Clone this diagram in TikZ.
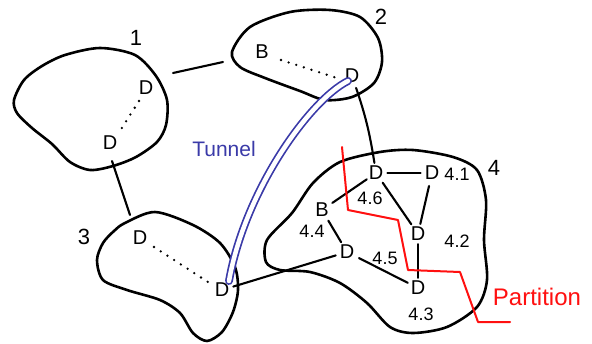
\documentclass[tikz,border=0pt]{standalone}
\usepackage{fontspec}
\setmainfont{Liberation Sans}
\definecolor{tunblue}{HTML}{3A3AA8}
\definecolor{partred}{HTML}{FF1010}
\begin{document}
\begin{tikzpicture}[x=1pt,y=-1pt,line cap=round,line join=round,
  blob/.style={line width=2.6pt},
  link/.style={line width=2.1pt},
  dots/.style={line width=2.6pt,dash pattern=on 0pt off 8pt},
  letter/.style={inner sep=1pt,font=\fontsize{20}{20}\selectfont},
  num/.style={inner sep=0pt,font=\fontsize{18}{18}\selectfont},
  region/.style={inner sep=0pt,font=\fontsize{22}{22}\selectfont},
  tunnel/.style={draw=tunblue,line width=1.7pt,double=white,double distance=4.5pt},
  partition/.style={draw=partred,line width=2pt}]
\fill[white] (0,0) rectangle (592,343);
\useasboundingbox (0,0) rectangle (592,343);

% network 1
\draw[blob] plot[smooth cycle] coordinates {(65,55) (100,48) (135,55) (156,76) (167,100)
  (166,125) (157,142) (136,157) (113,166) (90,170) (70,162) (52,144) (32,128) (17,113)
  (14,100) (24,80) (42,66)};
\node[region] (n1) at (136,38) {1};
\node[letter] (d1a) at (146,88) {D};
\node[letter] (d1b) at (110,143) {D};
\draw[dots] (139,101) -- (118,134);

% network 2
\draw[blob] plot[smooth cycle] coordinates {(232,52) (250,27) (290,12) (330,10) (360,17)
  (378,38) (382,62) (374,83) (352,97) (325,100) (300,91) (265,78) (240,67)};
\node[region] (n2) at (381,17) {2};
\node[letter] (b2) at (262,52) {B};
\node[letter] (d2) at (352,76) {D};
\draw[dots] (281,60) -- (337,78);

% network 3
\draw[blob] plot[smooth cycle] coordinates {(125,223) (155,212) (193,225) (220,243)
  (235,267) (238,290) (233,312) (222,332) (207,341) (193,333) (180,313) (160,300)
  (127,290) (103,280) (97,260) (103,243) (114,231)};
\node[region] (n3) at (84,237) {3};
\node[letter] (d3a) at (140,238) {D};
\node[letter] (d3b) at (222,290) {D};
\draw[dots] (154,247) -- (208,282);

% network 4
\draw[blob] plot[smooth cycle] coordinates {(267,240) (292,213) (313,183) (340,162)
  (380,152) (413,150) (453,157) (477,170) (486,200) (484,240) (487,280) (477,307)
  (447,327) (413,333) (390,327) (367,303) (340,283) (310,272) (280,270) (266,262)};
\node[region] (n4) at (494,168) {4};
\node[letter] (d46) at (376,173) {D};
\node[letter] (d41) at (432,173) {D};
\node[letter] (d42) at (418,234) {D};
\node[letter] (d44) at (322,210) {B};
\node[letter] (d45) at (347,252) {D};
\node[letter] (d43) at (418,288) {D};
\node[num] at (457,174) {4.1};
\node[num] at (370,198) {4.6};
\node[num] at (457,241) {4.2};
\node[num] at (312,231) {4.4};
\node[num] at (385,258) {4.5};
\node[num] at (421,314) {4.3};

% links between networks
\coordinate (e12a) at (173,73);
\coordinate (e12b) at (223,62);
\coordinate (e13a) at (112,161);
\coordinate (e13b) at (130,215);
\draw[link] (e12a) -- (e12b);
\draw[link] (e13a) -- (e13b);
\draw[link,shorten <=4pt,shorten >=2pt] (d2) to[bend left=5] (d46);
\draw[link,shorten <=3pt,shorten >=3pt] (d3b) -- (d45);

% links inside network 4
\draw[link,shorten <=3pt,shorten >=3pt] (d46) -- (d41);
\draw[link,shorten <=2pt,shorten >=2pt] (d46) -- (d42);
\draw[link,shorten <=5pt,shorten >=2pt] (d41) -- (d42);
\draw[link,shorten <=3pt,shorten >=1pt] (d44) -- (d46);
\draw[link,shorten <=3pt,shorten >=2pt] (d44) -- (d45);
\draw[link,shorten <=2pt,shorten >=2pt] (d42) -- (d43);
\draw[link,shorten <=4pt,shorten >=2pt] (d45) -- (d43);

% tunnel
\draw[tunnel] (348,81) .. controls (310,100) and (245,190) .. (229,281);
\node[text=tunblue,inner sep=0pt,font=\fontsize{21}{21}\selectfont] (tun) at (224,149) {Tunnel};

% partition
\draw[partition] (342,147) -- (348,210) -- (398,220) -- (408,270) -- (460,272)
  -- (478,322) -- (510,322);
\node[text=partred,inner sep=0pt,font=\fontsize{24}{24}\selectfont] (part) at (537,297) {Partition};
\end{tikzpicture}
\end{document}
